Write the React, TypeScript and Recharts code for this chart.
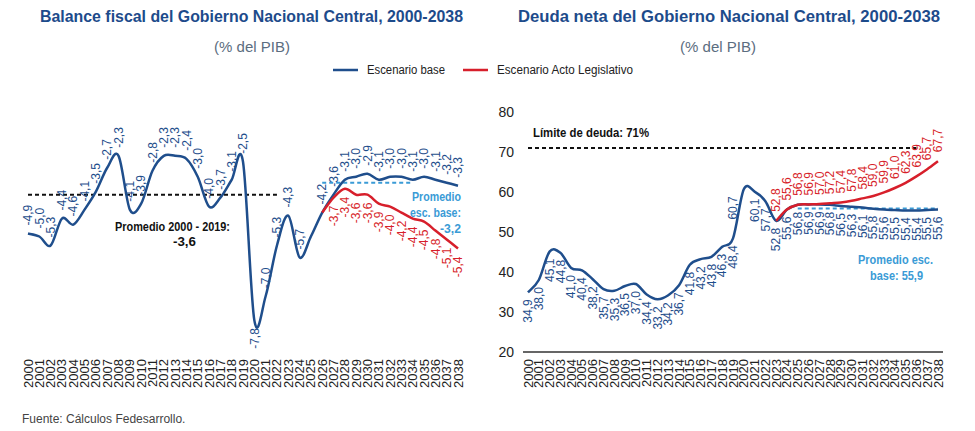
import React from "react";
import { LineChart, Line, XAxis, YAxis, ReferenceLine, LabelList } from "recharts";

const years = [
  "2000", "2001", "2002", "2003", "2004", "2005", "2006", "2007", "2008", "2009",
  "2010", "2011", "2012", "2013", "2014", "2015", "2016", "2017", "2018", "2019",
  "2020", "2021", "2022", "2023", "2024", "2025", "2026", "2027", "2028", "2029",
  "2030", "2031", "2032", "2033", "2034", "2035", "2036", "2037", "2038",
];

// Balance fiscal (% del PIB)
const balanceBase = [
  -4.9, -5.0, -5.3, -4.4, -4.6, -4.1, -3.5, -2.7, -2.3, -4.1,
  -3.9, -2.8, -2.3, -2.3, -2.4, -3.0, -4.0, -3.7, -3.1, -2.5,
  -7.8, -7.0, -5.3, -4.3, -5.7, -5.0, -4.2, -3.6, -3.1, -3.0,
  -2.9, -3.1, -3.0, -3.0, -3.1, -3.0, -3.1, -3.2, -3.3,
];
const balanceActo = [
  null, null, null, null, null, null, null, null, null, null,
  null, null, null, null, null, null, null, null, null, null,
  null, null, null, null, null, null, -4.2, -3.7, -3.4, -3.6,
  -3.6, -3.9, -4.0, -4.2, -4.4, -4.5, -4.8, -5.1, -5.4,
];
const promedioHistorico = -3.6;
const promedioBalanceBase = -3.2;

// Deuda neta (% del PIB)
const deudaBase = [
  34.9, 38.0, 45.1, 44.8, 41.0, 40.4, 38.2, 35.7, 35.3, 36.5,
  37.0, 34.4, 33.2, 34.2, 36.7, 41.8, 43.2, 43.8, 46.3, 48.4,
  60.7, 60.1, 57.7, 52.8, 55.6, 56.8, 56.9, 56.9, 56.8, 56.5,
  56.3, 56.1, 55.8, 55.6, 55.5, 55.4, 55.4, 55.5, 55.6,
];
const deudaActo = [
  null, null, null, null, null, null, null, null, null, null,
  null, null, null, null, null, null, null, null, null, null,
  null, null, null, 52.8, 55.6, 56.8, 56.9, 57.0, 57.2, 57.4,
  57.8, 58.4, 59.0, 59.9, 61.0, 62.3, 63.9, 65.7, 67.7,
];
const limiteDeuda = 71;
const promedioDeudaBase = 55.9;
const deudaTicks = [20, 30, 40, 50, 60, 70, 80];

const BLUE = "#1f4e8c";
const RED = "#d71f2b";
const LIGHT = "#3a9bd6";
const TITLE = "#1d4b8b";
const FONT = "'Liberation Sans', Arial, sans-serif";

const balanceData = years.map((year, i) => ({ year, base: balanceBase[i], acto: balanceActo[i] }));
const deudaData = years.map((year, i) => ({ year, base: deudaBase[i], acto: deudaActo[i] }));

const fmt = (v: number) => v.toFixed(1).replace(".", ",");

// spreadsheet-style smoothed line (bezier through every point)
const smooth = (ctx: any) => {
  let pts: number[][] = [];
  return {
    areaStart() {},
    areaEnd() {},
    lineStart() {
      pts = [];
    },
    point(x: number, y: number) {
      pts.push([+x, +y]);
    },
    lineEnd() {
      if (!pts.length) return;
      ctx.moveTo(pts[0][0], pts[0][1]);
      for (let i = 0; i < pts.length - 1; i++) {
        const p0 = pts[i - 1] ?? pts[i];
        const p1 = pts[i];
        const p2 = pts[i + 1];
        const p3 = pts[i + 2] ?? p2;
        ctx.bezierCurveTo(
          p1[0] + (p2[0] - p0[0]) / 6,
          p1[1] + (p2[1] - p0[1]) / 6,
          p2[0] - (p3[0] - p1[0]) / 6,
          p2[1] - (p3[1] - p1[1]) / 6,
          p2[0],
          p2[1]
        );
      }
    },
  };
};

const makeLabel =
  (color: string, side: "above" | "below", off = 7, skip: number[] = [], flip: number[] = [], dx: Record<number, number> = {}) =>
  (props: any) => {
    const { x, y, value, index } = props;
    if (value == null || skip.includes(index)) return null;
    const below = flip.includes(index) ? side === "above" : side === "below";
    const xx = x + (dx[index] ?? 0);
    const yy = below ? y + off : y - off;
    return (
      <text
        x={xx}
        y={yy}
        transform={`rotate(-90 ${xx} ${yy})`}
        textAnchor={below ? "end" : "start"}
        dy="0.35em"
        fontSize={12}
        fontFamily={FONT}
        fill={color}
      >
        {fmt(value)}
      </text>
    );
  };

const YearTick = ({ x, y, payload }: any) => (
  <text
    x={x}
    y={y}
    transform={`rotate(-90 ${x} ${y})`}
    textAnchor="end"
    dy="0.35em"
    fontSize={13}
    fontFamily={FONT}
    fill="#222"
  >
    {payload.value}
  </text>
);

function BalanceChart() {
  return (
    <LineChart
      width={975}
      height={431}
      data={balanceData}
      margin={{ top: 117, right: 517, left: 28, bottom: 35 }}
      style={{ position: "absolute", left: 0, top: 0 }}
    >
      <XAxis
        dataKey="year"
        interval={0}
        axisLine={false}
        tickLine={false}
        tickSize={3}
        tickMargin={0}
        height={40}
        tick={<YearTick />}
      />
      <YAxis hide domain={[-9, -1]} />
      <ReferenceLine
        segment={[{ x: "2000", y: promedioHistorico }, { x: "2022", y: promedioHistorico }]}
        stroke="#111"
        strokeWidth={2}
        strokeDasharray="4 3"
      />
      <ReferenceLine
        segment={[{ x: "2026", y: promedioBalanceBase }, { x: "2034", y: promedioBalanceBase }]}
        stroke={LIGHT}
        strokeWidth={2}
        strokeDasharray="4 3"
      />
      <Line type={smooth as any} dataKey="base" stroke={BLUE} strokeWidth={2.5} dot={false} isAnimationActive={false}>
        <LabelList dataKey="base" content={makeLabel(BLUE, "above", 8, [25], [20])} />
      </Line>
      <Line type={smooth as any} dataKey="acto" stroke={RED} strokeWidth={2.5} dot={false} isAnimationActive={false}>
        <LabelList dataKey="acto" content={makeLabel(RED, "below", 8, [26])} />
      </Line>
    </LineChart>
  );
}

function DeudaChart() {
  return (
    <LineChart
      width={975}
      height={431}
      data={deudaData}
      margin={{ top: 112, right: 32, left: 488, bottom: 34 }}
      style={{ position: "absolute", left: 0, top: 0 }}
    >
      <XAxis
        dataKey="year"
        interval={0}
        axisLine={{ stroke: "#333", strokeWidth: 1.5 }}
        tickLine={false}
        tickSize={7}
        tickMargin={0}
        height={45}
        padding={{ left: 5, right: 5 }}
        tick={<YearTick />}
      />
      <YAxis
        domain={[20, 80]}
        ticks={deudaTicks}
        axisLine={false}
        tickLine={false}
        tickSize={0}
        tickMargin={9}
        width={35}
        tick={{ fontSize: 14, fill: "#222", fontFamily: FONT }}
      />
      <ReferenceLine
        segment={[{ x: "2000", y: limiteDeuda }, { x: "2036", y: limiteDeuda }]}
        stroke="#111"
        strokeWidth={2}
        strokeDasharray="4 3"
      />
      <ReferenceLine
        segment={[{ x: "2025", y: promedioDeudaBase }, { x: "2038", y: promedioDeudaBase }]}
        stroke={LIGHT}
        strokeWidth={2}
        strokeDasharray="4 3"
      />
      <Line type={smooth as any} dataKey="base" stroke={BLUE} strokeWidth={2.5} dot={false} isAnimationActive={false}>
        <LabelList dataKey="base" content={makeLabel(BLUE, "below", 7, [], [], { 20: -11 })} />
      </Line>
      <Line type={smooth as any} dataKey="acto" stroke={RED} strokeWidth={2.5} dot={false} isAnimationActive={false}>
        <LabelList dataKey="acto" content={makeLabel(RED, "above", 9)} />
      </Line>
    </LineChart>
  );
}

const fit = { lengthAdjust: "spacingAndGlyphs" as const };

function Overlay() {
  return (
    <svg width={975} height={431} style={{ position: "absolute", left: 0, top: 0, pointerEvents: "none" }}>
      <g fontFamily={FONT} fontWeight="bold" fontSize={17} fill={TITLE}>
        <text x={40} y={22} textLength={423} {...fit}>Balance fiscal del Gobierno Nacional Central, 2000-2038</text>
        <text x={518} y={22} textLength={422} {...fit}>Deuda neta del Gobierno Nacional Central, 2000-2038</text>
      </g>
      <g fontFamily={FONT} fontSize={15} fill="#5b6d80" textAnchor="middle">
        <text x={252} y={52}>(% del PIB)</text>
        <text x={718} y={52}>(% del PIB)</text>
      </g>
      <g fontFamily={FONT} fontSize={12} fill="#222">
        <line x1={333} x2={358} y1={70} y2={70} stroke={BLUE} strokeWidth={2.5} />
        <text x={367} y={74} textLength={78} {...fit}>Escenario base</text>
        <line x1={463} x2={488} y1={70} y2={70} stroke={RED} strokeWidth={2.5} />
        <text x={497} y={74} textLength={136} {...fit}>Escenario Acto Legislativo</text>
      </g>
      <g fontFamily={FONT} fontWeight="bold" fontSize={13} fill="#111">
        <text x={115} y={231} textLength={115} {...fit}>Promedio 2000 - 2019:</text>
        <text x={173} y={246} textLength={23} {...fit}>-3,6</text>
        <text x={533} y={137} textLength={116} {...fit}>Límite de deuda:  71%</text>
      </g>
      <g fontFamily={FONT} fontWeight="bold" fontSize={13} fill={LIGHT}>
        <text x={412} y={201} textLength={49} {...fit}>Promedio</text>
        <text x={410} y={217} textLength={51} {...fit}>esc. base:</text>
        <text x={440} y={233} textLength={21} {...fit}>-3,2</text>
        <text x={858} y={264} textLength={75} {...fit}>Promedio esc.</text>
        <text x={870} y={280} textLength={53} {...fit}>base: 55,9</text>
      </g>
      <text x={22} y={423} fontFamily={FONT} fontSize={12} fill="#444">
        Fuente: Cálculos Fedesarrollo.
      </text>
    </svg>
  );
}

export default function App() {
  return (
    <div style={{ position: "relative", width: 975, height: 431, background: "#fff", overflow: "hidden" }}>
      <style>{"body{margin:0}"}</style>
      <BalanceChart />
      <DeudaChart />
      <Overlay />
    </div>
  );
}
